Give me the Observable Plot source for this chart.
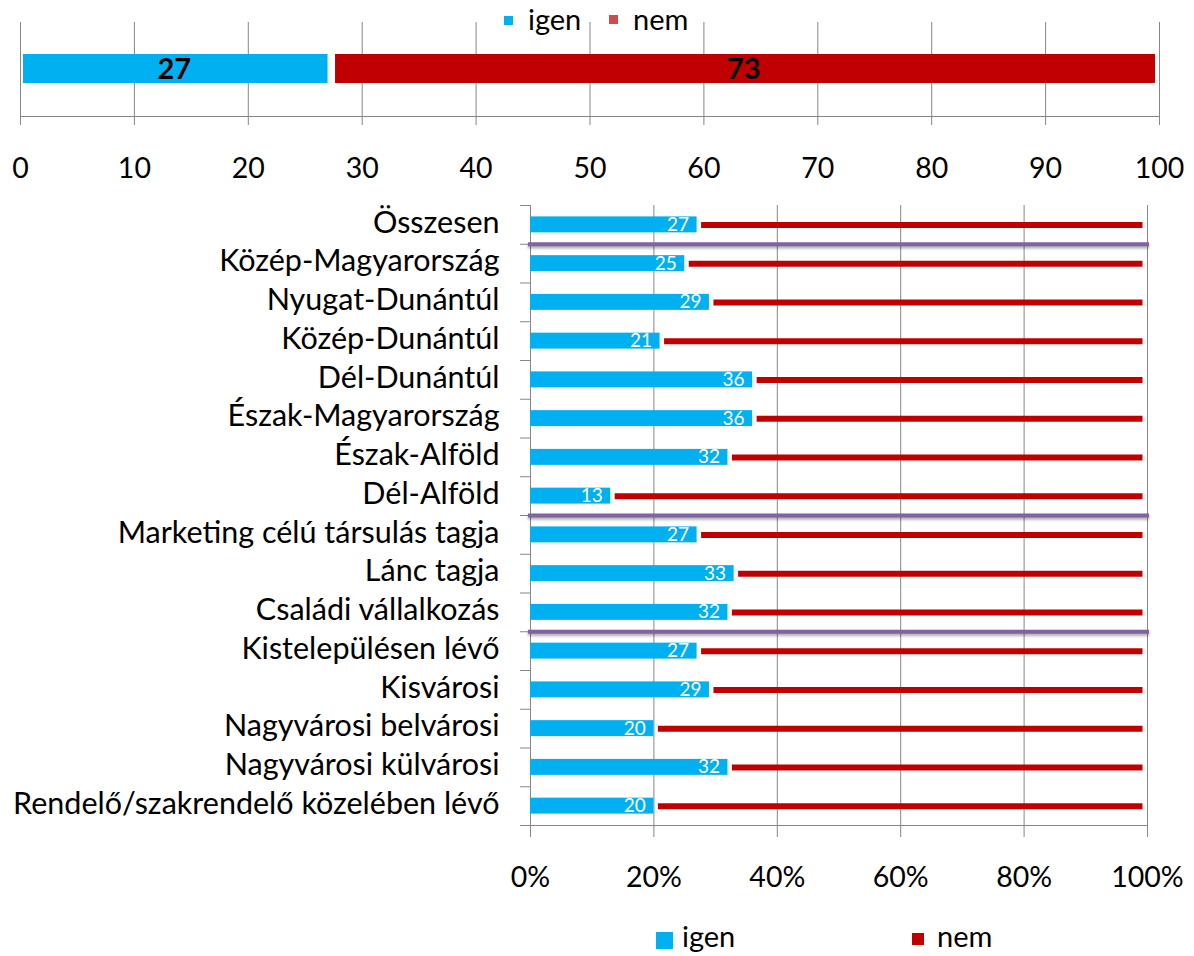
<!DOCTYPE html>
<html>
<head>
<meta charset="utf-8">
<script src="https://cdn.jsdelivr.net/npm/d3@7"></script>
<script src="https://cdn.jsdelivr.net/npm/@observablehq/plot@0.6"></script>
<style>
  body { margin: 0; background: #fff; font-family: Lato, "Open Sans", sans-serif; }
  #chart { position: relative; width: 1194px; height: 956px; overflow: hidden; background: #fff; }
  #chart svg { position: absolute; left: 0; }
  .legend { position: absolute; font-size: 29px; line-height: 1; color: #000; white-space: nowrap; }
  .swatch { position: absolute; display: block; }
</style>
</head>
<body>
<div id="chart"></div>
<script>
// Series and colours
const seriesNames = ["igen", "nem"];
const seriesColors = ["#00B0F0", "#C00000"];

// Overall split (top bar)
const totalIgen = 27;
const totalNem = 73;
const topTicks = [0, 10, 20, 30, 40, 50, 60, 70, 80, 90, 100];

// Breakdown by group (bottom chart)
const categories = [
  "Összesen",
  "Közép-Magyarország",
  "Nyugat-Dunántúl",
  "Közép-Dunántúl",
  "Dél-Dunántúl",
  "Észak-Magyarország",
  "Észak-Alföld",
  "Dél-Alföld",
  "Marketing célú társulás tagja",
  "Lánc tagja",
  "Családi vállalkozás",
  "Kistelepülésen lévő",
  "Kisvárosi",
  "Nagyvárosi belvárosi",
  "Nagyvárosi külvárosi",
  "Rendelő/szakrendelő közelében lévő"
];
const igenValues = [27, 25, 29, 21, 36, 36, 32, 13, 27, 33, 32, 27, 29, 20, 32, 20];
const nemValues  = [73, 75, 71, 79, 64, 64, 68, 87, 73, 67, 68, 73, 71, 80, 68, 80];
const groupStarts = ["Közép-Magyarország", "Marketing célú társulás tagja", "Kistelepülésen lévő"];
const pctTicks = [0, 20, 40, 60, 80, 100];

const FONT = "Lato, 'Open Sans', sans-serif";
const GRID = "#868686";
const chart = document.getElementById("chart");

// ---------- Top: overall split ----------
const topRows = [
  {serie: seriesNames[0], from: 0, to: totalIgen, value: totalIgen},
  {serie: seriesNames[1], from: totalIgen, to: totalIgen + totalNem, value: totalNem}
];

const topPlot = Plot.plot({
  width: 1194,
  height: 200,
  marginTop: 22,
  marginBottom: 84,
  marginLeft: 20,
  marginRight: 35,
  style: {fontFamily: FONT, fontSize: "28px", color: "#000", background: "transparent", overflow: "visible"},
  x: {domain: [0, 100], label: null},
  y: {domain: [0, 1], axis: null, label: null},
  marks: [
    Plot.gridX(topTicks, {stroke: GRID, strokeOpacity: 1}),
    Plot.ruleY([0], {stroke: GRID}),
    Plot.axisX(topTicks, {tickSize: 9, tickPadding: 32, stroke: GRID, strokeOpacity: 1, fontSize: 28.5, label: null}),
    Plot.barX(topRows.slice(0, 1), {x1: "from", x2: "to", fill: seriesColors[0], insetLeft: 3, insetTop: 32, insetBottom: 33}),
    Plot.barX(topRows.slice(1), {x1: "from", x2: "to", fill: seriesColors[1], insetLeft: 7.5, insetRight: 4, insetTop: 32, insetBottom: 33}),
    Plot.text(topRows, {x: d => (d.from + d.to) / 2, text: "value", fill: "#000", fontWeight: "bold", fontSize: 29})
  ]
});
topPlot.style.top = "0px";
chart.appendChild(topPlot);

// ---------- Bottom: breakdown ----------
const rows = categories.map((label, i) => ({label, igen: igenValues[i], nem: nemValues[i]}));
const bandTop = 15, bandBottom = 635;
const step = (bandBottom - bandTop) / categories.length;

const bottomPlot = Plot.plot({
  width: 1194,
  height: 710,
  marginTop: bandTop,
  marginBottom: 710 - bandBottom,
  marginLeft: 530,
  marginRight: 47,
  style: {fontFamily: FONT, fontSize: "28px", color: "#000", background: "transparent", overflow: "visible"},
  x: {domain: [0, 100], label: null},
  y: {domain: categories, padding: 0, round: false, label: null},
  marks: [
    Plot.gridX(pctTicks, {stroke: GRID, strokeOpacity: 1}),
    Plot.axisX(pctTicks, {tickSize: 12, tickPadding: 29, tickFormat: d => d + "%", stroke: GRID, strokeOpacity: 1, fontSize: 28.5, label: null}),
    Plot.axisY({tickSize: 0, tickPadding: 31, fontSize: 30.5, dy: -2, label: null}),
    // band boundary ticks on the category axis, and the baseline
    Plot.ruleY(categories, {x1: 0, x2: 0, insetLeft: -10, dy: -step / 2, stroke: GRID}),
    Plot.ruleY(categories.slice(-1), {x1: 0, x2: 100, insetLeft: -10, dy: step / 2, stroke: GRID}),
    // igen bars
    Plot.barX(rows, {x1: 0, x2: "igen", y: "label", fill: seriesColors[0], insetTop: 11.4, insetBottom: 11.4}),
    // nem bars drawn as thin strips
    Plot.ruleY(rows, {y: "label", x1: "igen", x2: d => d.igen + d.nem, stroke: seriesColors[1], strokeWidth: 6, insetLeft: 4.5, insetRight: 4.5}),
    // group separators
    Plot.ruleY(groupStarts, {x1: 0, x2: 100, insetLeft: -2, insetRight: -2, dy: -step / 2, stroke: "#8064A2", strokeWidth: 4}),
    // value labels inside the igen bars
    Plot.text(rows, {x: "igen", y: "label", text: "igen", textAnchor: "end", dx: -8, fill: "#fff", fontSize: 19})
  ]
});
bottomPlot.style.top = "190px";
chart.appendChild(bottomPlot);

// soften the nem strips, lift the separators with a small shadow
bottomPlot.querySelectorAll("g[stroke]").forEach(g => {
  const s = (g.getAttribute("stroke") || "").toUpperCase();
  if (s === "#C00000") g.style.filter = "blur(0.7px)";
  if (s === "#8064A2") g.style.filter = "drop-shadow(0px 2px 1.5px rgba(0,0,0,0.35))";
});
topPlot.querySelectorAll("g[fill]").forEach(g => {
  const f = (g.getAttribute("fill") || "").toUpperCase();
  if (f === "#00B0F0" || f === "#C00000") g.style.filter = "blur(0.4px)";
});

// ---------- Legends ----------
function addLegend(items) {
  items.forEach(it => {
    const sw = document.createElement("span");
    sw.className = "swatch";
    Object.assign(sw.style, {left: it.sx + "px", top: it.sy + "px", width: it.size + "px", height: it.size + "px", background: it.color, filter: it.blur ? "blur(0.6px)" : "none", opacity: it.opacity || 1});
    chart.appendChild(sw);
    const t = document.createElement("div");
    t.className = "legend";
    t.textContent = it.name;
    Object.assign(t.style, {left: it.tx + "px", top: it.ty + "px"});
    chart.appendChild(t);
  });
}
addLegend([
  {name: seriesNames[0], color: seriesColors[0], sx: 504, sy: 16, size: 9, tx: 528, ty: 4, blur: true},
  {name: seriesNames[1], color: seriesColors[1], sx: 609, sy: 15, size: 9, tx: 633, ty: 4, blur: true, opacity: 0.7},
  {name: seriesNames[0], color: seriesColors[0], sx: 656, sy: 932, size: 17, tx: 682, ty: 921},
  {name: seriesNames[1], color: seriesColors[1], sx: 912, sy: 933, size: 12, tx: 937, ty: 921}
]);
</script>
</body>
</html>
